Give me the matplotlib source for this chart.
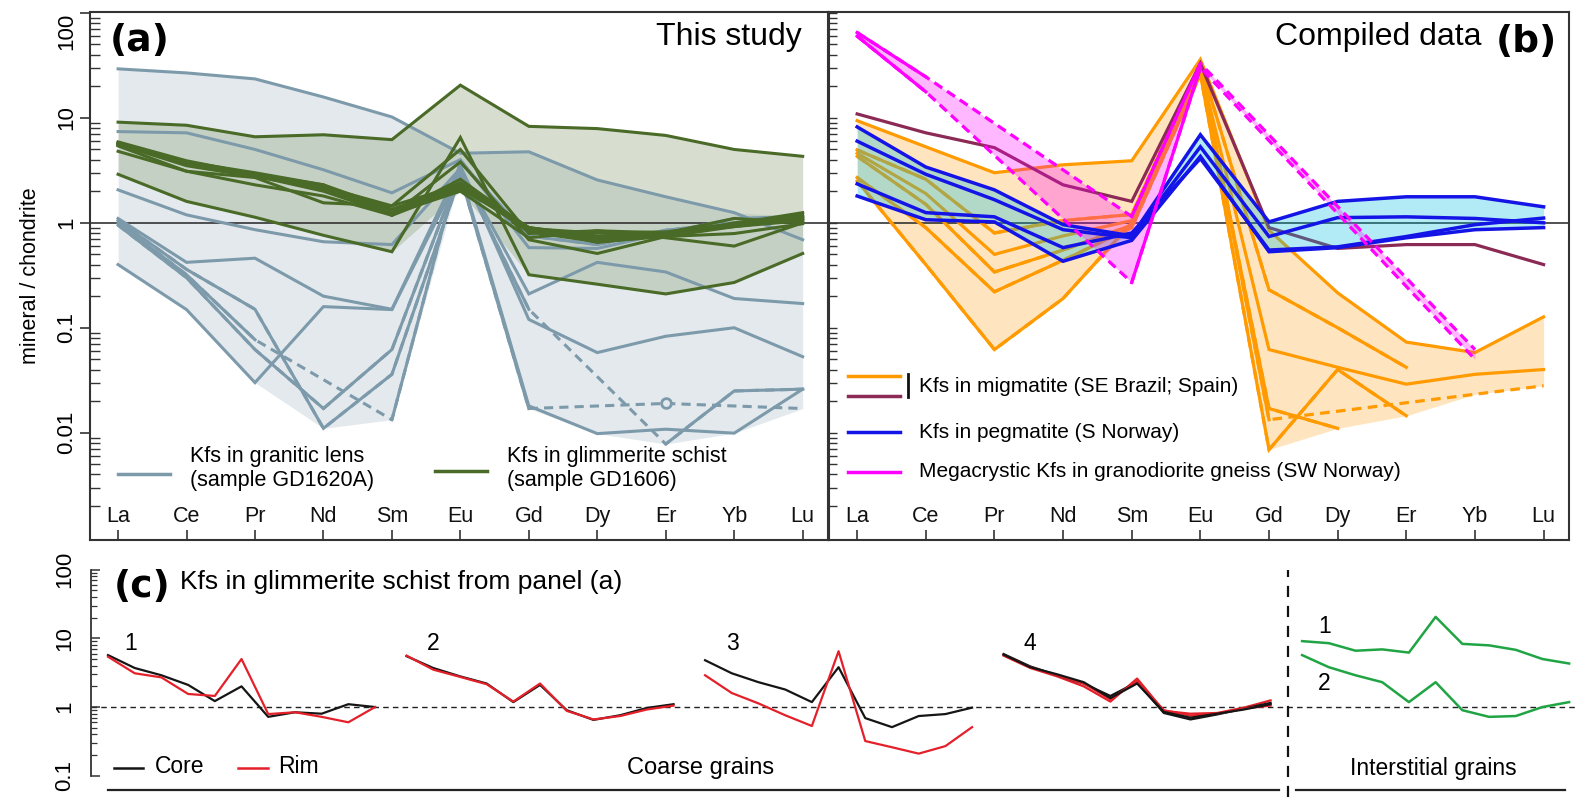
import warnings
import numpy as np
import matplotlib
matplotlib.use('Agg')
import matplotlib.pyplot as plt
import matplotlib.transforms as mtransforms
from matplotlib.ticker import FixedLocator, NullFormatter

plt.rcParams['font.family'] = ['Liberation Sans', 'DejaVu Sans']

nan = np.nan
REE = ['La', 'Ce', 'Pr', 'Nd', 'Sm', 'Eu', 'Gd', 'Dy', 'Er', 'Yb', 'Lu']

# ---- panel (a): Kfs in granitic lens GD1620A (nan = not measured -> dashed)
lens_1 = [29.3, 26.8, 23.5, 15.8, 10.2, 4.6, 4.75, 2.56, 1.77, 1.25, 0.69]
lens_2 = [7.4, 7.2, 5.0, 3.2, 1.93, 4.0, 0.58, 0.57, 0.8, 1.1, 1.15]
lens_3 = [2.06, 1.19, 0.86, 0.66, 0.62, 3.3, 0.21, 0.42, 0.34, 0.19, 0.17]
lens_4 = [1.1, 0.42, 0.46, 0.2, 0.15, 3.5, 0.12, 0.058, 0.083, 0.10, 0.053]
lens_5 = [0.4, 0.149, 0.030, 0.159, 0.149, 3.0, 0.018, 0.0098, 0.0108, 0.0099, 0.026]
lens_6 = [1.05, 0.36, 0.15, 0.011, 0.036, 2.8, 0.017, nan, 0.019, nan, 0.017]
lens_7 = [0.95, 0.3, 0.062, 0.017, 0.062, 3.2, 0.15, nan, 0.0078, 0.025, 0.026]
lens_8 = [1.0, 0.32, 0.077, nan, 0.0133, 3.8, 0.75, 0.62, 0.85, 1.0, 1.1]

# ---- panel (c) / glimmerite schist GD1606 (also the green lines in (a))
grain1_core = [5.7, 3.7, 2.9, 2.1, 1.22, 2.0, 0.72, 0.84, 0.8, 1.1, 1.0]
grain1_rim = [5.4, 3.1, 2.7, 1.55, 1.45, 5.0, 0.79, 0.84, 0.72, 0.6, 1.0]
grain2_core = [5.5, 3.7, 2.8, 2.2, 1.18, 2.1, 0.9, 0.65, 0.76, 0.97, 1.1]
grain2_rim = [5.6, 3.5, 2.75, 2.15, 1.2, 2.2, 0.88, 0.66, 0.74, 0.92, 1.05]
grain3_core = [4.8, 3.1, 2.3, 1.8, 1.18, 3.8, 0.69, 0.51, 0.74, 0.79, 0.98]
grain3_rim = [2.9, 1.6, 1.13, 0.76, 0.53, 6.5, 0.32, 0.26, 0.21, 0.27, 0.51]
grain4_core_a = [5.9, 3.9, 2.9, 2.2, 1.45, 2.3, 0.82, 0.66, 0.78, 0.95, 1.15]
grain4_core_b = [5.8, 3.8, 3.0, 2.3, 1.35, 2.2, 0.85, 0.7, 0.8, 0.92, 1.1]
grain4_rim_a = [5.6, 3.7, 2.8, 2.0, 1.2, 2.6, 0.88, 0.8, 0.82, 0.98, 1.25]
grain4_rim_b = [5.7, 3.8, 2.9, 2.2, 1.3, 2.4, 0.9, 0.75, 0.8, 0.95, 1.05]
inter_1 = [9.1, 8.5, 6.6, 6.9, 6.2, 20.5, 8.3, 7.9, 6.8, 5.0, 4.3]
inter_2 = [5.7, 3.8, 2.9, 2.3, 1.18, 2.3, 0.9, 0.72, 0.74, 1.0, 1.18]

# ---- panel (b): compiled data
migm_1 = [9.4, 5.3, 3.0, 3.57, 3.9, 36, 0.85, 0.215, 0.073, 0.058, 0.127]
migm_2 = [4.95, 2.6, 0.8, 1.05, 1.2, 33, 0.23, 0.1, 0.042, nan, nan]
migm_3 = [4.6, 1.9, 0.5, 0.75, 1.05, 30, 0.062, 0.042, 0.029, 0.036, 0.04]
migm_4 = [4.3, 1.5, 0.34, 0.55, 0.95, 28, 0.017, 0.011, nan, nan, nan]
migm_5 = [2.7, 0.9, 0.22, 0.44, 0.9, 26, 0.0069, 0.04, 0.0145, nan, nan]
migm_6 = [2.5, 0.4, 0.062, 0.19, 1.0, 32, 0.0133, nan, nan, nan, 0.028]
migm_spain = [10.9, 7.2, 5.2, 2.3, 1.6, 33, 0.9, 0.57, 0.62, 0.62, 0.4]
pegm_1 = [8.2, 3.4, 2.06, 0.96, 0.75, 6.9, 1.02, 1.6, 1.77, 1.77, 1.42]
pegm_2 = [6.0, 2.9, 1.66, 0.86, 0.72, 5.3, 0.74, 1.12, 1.14, 1.1, 1.0]
pegm_3 = [2.35, 1.25, 1.14, 0.58, 0.8, 4.1, 0.55, 0.59, 0.74, 0.96, 1.11]
pegm_4 = [1.8, 1.07, 1.02, 0.43, 0.68, 4.3, 0.53, 0.58, 0.72, 0.86, 0.9]
mega_1 = [65, 24.6, nan, nan, 1.15, 33, nan, nan, nan, 0.062, nan]
mega_2 = [60, 17.7, nan, nan, 0.27, 30, nan, nan, nan, 0.05, nan]

GRAY = '#7d9aab'
OLIVE = '#4a6a27'
ORANGE = '#ff9a00'
MAROON = '#8b2a55'
BLUE = '#1414e6'
MAGENTA = '#ff00ff'
EDGE = '#333333'


def gap_fill(vals):
    v = np.asarray(vals, float)
    ok = ~np.isnan(v)
    i = np.arange(len(v))
    out = np.full(len(v), nan)
    seg = (i >= i[ok][0]) & (i <= i[ok][-1])
    out[seg] = 10 ** np.interp(i[seg], i[ok], np.log10(v[ok]))
    return out


def envelope(ax, x, series, color, alpha, z):
    arr = np.array([gap_fill(s) for s in series])
    with warnings.catch_warnings():
        warnings.simplefilter('ignore')
        lo = np.nanmin(arr, axis=0)
        hi = np.nanmax(arr, axis=0)
    ax.fill_between(x, lo, hi, color=color, alpha=alpha, lw=0, zorder=z)


def draw_series(ax, x, vals, color, lw, z, dash=(3, 2), circle=False):
    v = np.asarray(vals, float)
    x = np.asarray(x, float)
    ok = ~np.isnan(v)
    if (~ok).any():
        ax.plot(x[ok], v[ok], color=color, lw=lw, ls=(0, dash), zorder=z)
    ax.plot(x, v, color=color, lw=lw, zorder=z, solid_joinstyle='miter')
    if circle:
        # a single measured value between two missing ones gets a circle
        for k in range(1, len(v) - 1):
            if ok[k] and not ok[k - 1] and not ok[k + 1]:
                ax.plot(x[k], v[k], 'o', ms=7, mfc='#e3e9ec', mec=color,
                        mew=2, zorder=z + 0.1)


W, H = 1575, 797
fig = plt.figure(figsize=(W / 100, H / 100), dpi=100)


def px_axes(l, t, r, b):
    return fig.add_axes([l / W, 1 - b / H, (r - l) / W, (b - t) / H])


ax_a = px_axes(90, 12, 828, 540)
ax_b = px_axes(829, 12, 1569, 540)
ax_c = px_axes(91, 545, 1575, 797)

x = np.arange(len(REE))

# ---------------- frames for (a) and (b)
for ax in (ax_a, ax_b):
    ax.set_yscale('log')
    ax.set_ylim(0.00095, 102)
    ax.set_xlim(-0.41, 10.37)
    for s in ax.spines.values():
        s.set_color(EDGE)
        s.set_linewidth(1.5)
    ax.set_xticks(x, [''] * len(x))
    ax.tick_params(axis='x', direction='in', length=7, width=1.2, color=EDGE)
    ax.yaxis.set_major_locator(FixedLocator([0.01, 0.1, 1, 10, 100]))
    minors = [k * 10.0 ** e for e in range(-3, 2) for k in range(2, 10)]
    ax.yaxis.set_minor_locator(FixedLocator(minors))
    ax.yaxis.set_minor_formatter(NullFormatter())
    ax.axhline(1, color=EDGE, lw=1.2, zorder=2.5)
    tr = mtransforms.blended_transform_factory(ax.transData, ax.transAxes)
    for i, name in enumerate(REE):
        ax.text(i, 0.044, name, transform=tr, ha='center', va='center',
                fontsize=15.5, color='#111111')

ax_a.set_yticklabels(['0.01', '0.1', '1', '10', '100'], rotation=90,
                     va='center', fontsize=16)
ax_a.tick_params(axis='y', which='major', direction='out', length=7,
                 width=1.2, pad=2.5, color=EDGE)
ax_a.tick_params(axis='y', which='minor', direction='in', length=7,
                 width=1.0, color=EDGE)
ax_a.yaxis.get_major_ticks()[-1].label1.set_va('top')
ax_b.set_yticklabels([])
ax_b.tick_params(axis='y', which='both', direction='in', length=5.5,
                 width=1.0, color=EDGE)

fig.text(30 / W, 1 - 276 / H, 'mineral / chondrite', rotation=90,
         ha='center', va='center', fontsize=15.5)

# ---------------- panel (a)
lens = [lens_1, lens_2, lens_3, lens_4, lens_5, lens_6, lens_7, lens_8]
schist = [inter_1, inter_2, grain1_core, grain1_rim, grain2_core, grain2_rim,
          grain3_core, grain3_rim, grain4_core_a, grain4_core_b,
          grain4_rim_a, grain4_rim_b]
envelope(ax_a, x, lens, '#dfe6ea', 0.85, 1)
envelope(ax_a, x, schist, '#8da37a', 0.35, 2)
for s in lens:
    draw_series(ax_a, x, s, GRAY, 2.2, 3, circle=True)
for s in schist:
    draw_series(ax_a, x, s, OLIVE, 2.2, 4)

ax_a.text(0.965, 0.953, 'This study', transform=ax_a.transAxes, ha='right',
          va='center', fontsize=23)
ax_a.text(0.027, 0.945, '(a)', transform=ax_a.transAxes, ha='left',
          va='center', fontsize=27, fontweight='bold', family='DejaVu Sans')
ax_a.plot([0.038, 0.108], [0.125, 0.125], transform=ax_a.transAxes,
          color=GRAY, lw=2.5)
ax_a.text(0.1355, 0.1354, 'Kfs in granitic lens\n(sample GD1620A)',
          transform=ax_a.transAxes, ha='left', va='center', fontsize=15.5,
          linespacing=1.15)
ax_a.plot([0.4675, 0.538], [0.131, 0.131], transform=ax_a.transAxes,
          color=OLIVE, lw=2.5)
ax_a.text(0.565, 0.1354, 'Kfs in glimmerite schist\n(sample GD1606)',
          transform=ax_a.transAxes, ha='left', va='center', fontsize=15.5,
          linespacing=1.15)

# ---------------- panel (b)
migm = [migm_1, migm_2, migm_3, migm_4, migm_5, migm_6]
pegm = [pegm_1, pegm_2, pegm_3, pegm_4]
mega = [mega_1, mega_2]
envelope(ax_b, x, migm, ORANGE, 0.25, 1)
for s in migm:
    draw_series(ax_b, x, s, ORANGE, 2.3, 3, dash=(3, 2))
draw_series(ax_b, x, migm_spain, MAROON, 2.3, 3.2)
envelope(ax_b, x, pegm, '#00c0e0', 0.3, 3.5)
envelope(ax_b, x, mega, MAGENTA, 0.28, 3.6)
for s in pegm:
    draw_series(ax_b, x, s, BLUE, 2.5, 4)
for s in mega:
    draw_series(ax_b, x, s, MAGENTA, 2.3, 4.5, dash=(3, 1.8))

ax_b.text(0.882, 0.953, 'Compiled data', transform=ax_b.transAxes,
          ha='right', va='center', fontsize=23)
ax_b.text(0.984, 0.943, '(b)', transform=ax_b.transAxes, ha='right',
          va='center', fontsize=27, fontweight='bold', family='DejaVu Sans')
leg_x = [0.026, 0.096]
ax_b.plot(leg_x, [0.311, 0.311], transform=ax_b.transAxes, color=ORANGE, lw=2.5)
ax_b.plot(leg_x, [0.273, 0.273], transform=ax_b.transAxes, color=MAROON, lw=2.5)
ax_b.plot([0.107, 0.107], [0.270, 0.314], transform=ax_b.transAxes,
          color='#111111', lw=2)
ax_b.text(0.122, 0.29, 'Kfs in migmatite (SE Brazil; Spain)',
          transform=ax_b.transAxes, ha='left', va='center', fontsize=15)
ax_b.plot(leg_x, [0.2045, 0.2045], transform=ax_b.transAxes, color=BLUE, lw=2.5)
ax_b.text(0.122, 0.2045, 'Kfs in pegmatite (S Norway)',
          transform=ax_b.transAxes, ha='left', va='center', fontsize=15)
ax_b.plot(leg_x, [0.129, 0.129], transform=ax_b.transAxes, color=MAGENTA, lw=2.5)
ax_b.text(0.122, 0.129, 'Megacrystic Kfs in granodiorite gneiss (SW Norway)',
          transform=ax_b.transAxes, ha='left', va='center', fontsize=15)

# ---------------- panel (c)
STEP = 11.18
ax_c.set_yscale('log')
ax_c.set_ylim(0.0491, 228)
ax_c.set_xlim(-0.637, 54.94)
for side in ('top', 'right', 'bottom'):
    ax_c.spines[side].set_visible(False)
ax_c.spines['left'].set_bounds(0.1, 100)
ax_c.spines['left'].set_color(EDGE)
ax_c.spines['left'].set_linewidth(1.3)
ax_c.set_xticks([])
ax_c.yaxis.set_major_locator(FixedLocator([0.1, 1, 10, 100]))
ax_c.yaxis.set_minor_locator(FixedLocator(
    [k * 10.0 ** e for e in range(-1, 2) for k in range(2, 10)]))
ax_c.yaxis.set_minor_formatter(NullFormatter())
ax_c.set_yticklabels(['0.1', '1', '10', '100'], rotation=90, va='center',
                     fontsize=16)
ax_c.tick_params(axis='y', which='major', direction='in', length=6.5,
                 width=1.1, pad=11.5, color=EDGE)
ax_c.tick_params(axis='y', which='minor', direction='in', length=4,
                 width=0.9, color=EDGE)
ax_c.axhline(1, color='#222222', lw=1.0, ls=(0, (4, 3)), zorder=1)

BLACK = '#151515'
RED = '#e4202a'
GREEN = '#20a444'
coarse = [(grain1_core, grain1_rim), (grain2_core, grain2_rim),
          (grain3_core, grain3_rim)]
for g, (core, rim) in enumerate(coarse):
    xc = g * STEP + x
    ax_c.plot(xc, core, color=BLACK, lw=1.6, zorder=3)
    ax_c.plot(xc, rim, color=RED, lw=1.6, zorder=3 if g == 1 else 4)
x4 = 3 * STEP + x
ax_c.plot(x4, grain4_rim_a, color=RED, lw=1.6, zorder=3)
ax_c.plot(x4, grain4_core_a, color=BLACK, lw=1.6, zorder=3)
ax_c.plot(x4, grain4_rim_b, color=RED, lw=1.6, zorder=3)
ax_c.plot(x4, grain4_core_b, color=BLACK, lw=1.6, zorder=3)
xi = 4 * STEP + x
ax_c.plot(xi, inter_1, color=GREEN, lw=1.8, zorder=3)
ax_c.plot(xi, inter_2, color=GREEN, lw=1.8, zorder=3)

trc = mtransforms.blended_transform_factory(ax_c.transData, ax_c.transAxes)
ax_c.plot([44.19, 44.19], [0, 0.9], transform=trc, color='#111111', lw=1.6,
          ls=(0, (5, 4)), zorder=2)
ax_c.plot([0, 43.85], [0.028, 0.028], transform=trc, color='#222222', lw=1.6)
ax_c.plot([44.49, 54.58], [0.028, 0.028], transform=trc, color='#222222', lw=1.6)

ax_c.text(0.0155, 0.833, '(c)', transform=ax_c.transAxes, ha='left',
          va='center', fontsize=27, fontweight='bold', family='DejaVu Sans')
ax_c.text(0.06, 0.853, 'Kfs in glimmerite schist from panel (a)',
          transform=ax_c.transAxes, ha='left', va='center', fontsize=19)
for k, xf in enumerate([0.0222, 0.2264, 0.4279, 0.6287]):
    ax_c.text(xf, 0.611, str(k + 1), transform=ax_c.transAxes, ha='left',
              va='center', fontsize=16.5)
ax_c.text(0.8268, 0.675, '1', transform=ax_c.transAxes, ha='left',
          va='center', fontsize=16.5)
ax_c.text(0.8268, 0.452, '2', transform=ax_c.transAxes, ha='left',
          va='center', fontsize=16.5)
ax_c.plot([0.0155, 0.035], [0.115, 0.115], transform=ax_c.transAxes,
          color=BLACK, lw=1.8)
ax_c.text(0.0431, 0.12, 'Core', transform=ax_c.transAxes, ha='left',
          va='center', fontsize=16.5)
ax_c.plot([0.099, 0.119], [0.115, 0.115], transform=ax_c.transAxes,
          color=RED, lw=1.8)
ax_c.text(0.126, 0.12, 'Rim', transform=ax_c.transAxes, ha='left',
          va='center', fontsize=16.5)
ax_c.text(0.411, 0.115, 'Coarse grains', transform=ax_c.transAxes,
          ha='center', va='center', fontsize=17)
ax_c.text(0.9043, 0.115, 'Interstitial grains', transform=ax_c.transAxes,
          ha='center', va='center', fontsize=16.5)

fig.savefig('out.png', dpi=100)
